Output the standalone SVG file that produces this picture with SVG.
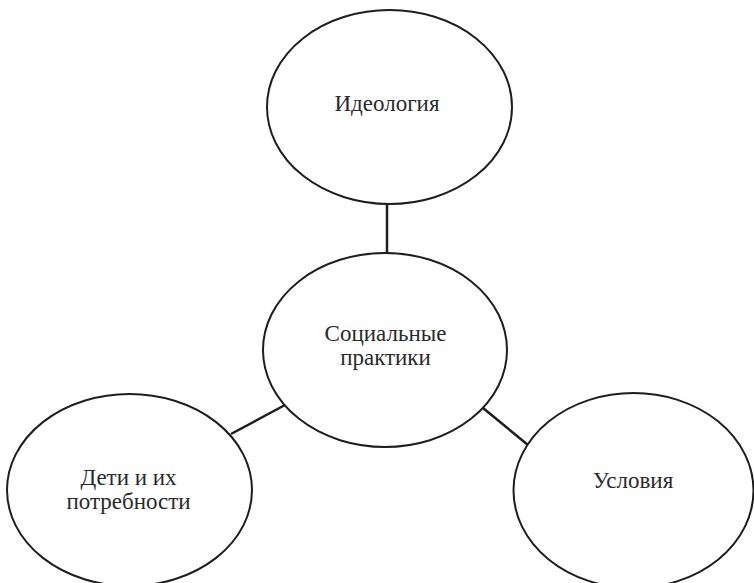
<svg xmlns="http://www.w3.org/2000/svg" width="754" height="583" viewBox="0 0 754 583">
  <style>
    .node ellipse { fill: #ffffff; stroke: #1e1e1e; stroke-width: 2; }
    .node text { font-family: "Liberation Serif", "DejaVu Serif", serif; font-size: 23px; fill: #2a2a2a; text-anchor: middle; }
    .edges line { stroke: #1e1e1e; stroke-width: 2.5; }
  </style>
  <rect width="754" height="583" fill="#ffffff"/>
  <g class="edges" id="connectors">
    <line x1="387" y1="204" x2="387" y2="253"/>
    <line x1="231" y1="434" x2="285" y2="405"/>
    <line x1="483" y1="408" x2="528" y2="445"/>
  </g>
  <g class="node" id="ideology">
    <ellipse cx="389.5" cy="107" rx="122.5" ry="97"/>
    <text x="387" y="111">Идеология</text>
  </g>
  <g class="node" id="social-practices">
    <ellipse cx="385" cy="350" rx="122" ry="97"/>
    <text x="385.5" y="340.5">Социальные</text>
    <text x="385.5" y="365">практики</text>
  </g>
  <g class="node" id="children">
    <ellipse cx="129.5" cy="490" rx="122.5" ry="96"/>
    <text x="128.5" y="485">Дети и их</text>
    <text x="128.5" y="509">потребности</text>
  </g>
  <g class="node" id="conditions">
    <ellipse cx="633.5" cy="490.5" rx="120" ry="97.5"/>
    <text x="633" y="488">Условия</text>
  </g>
</svg>
